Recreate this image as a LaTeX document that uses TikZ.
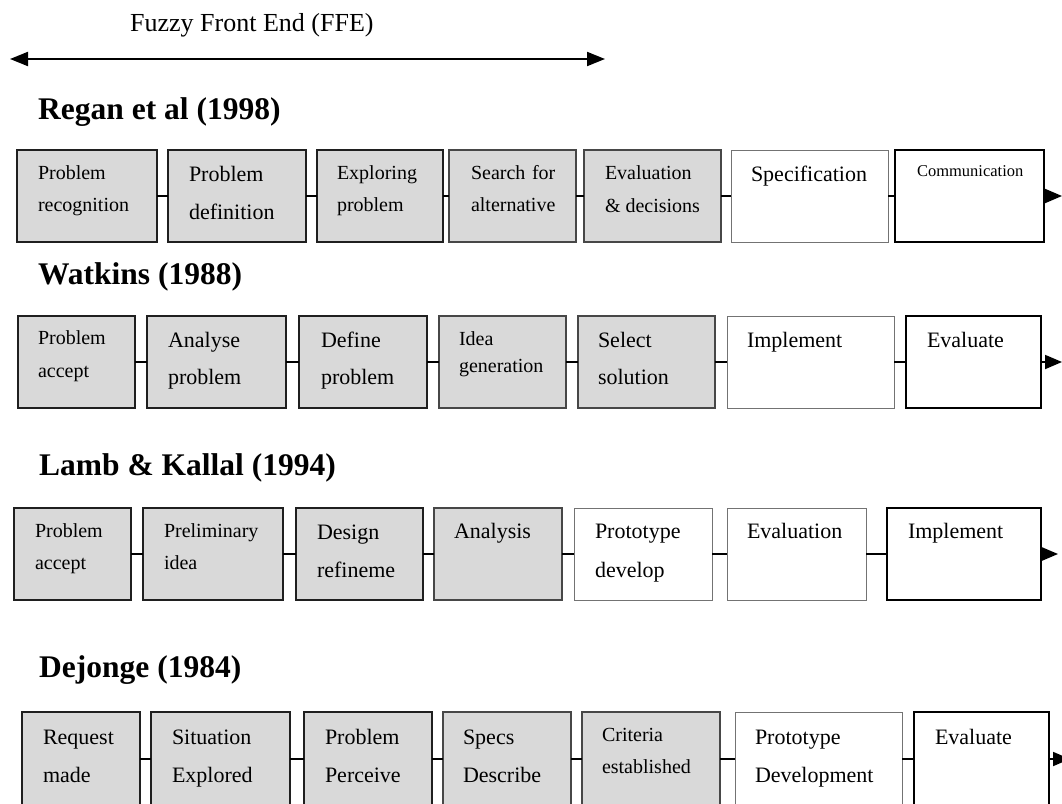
\documentclass[tikz,border=0pt]{standalone}
\usepackage{fontspec}
\setmainfont{Liberation Serif}
\usetikzlibrary{arrows.meta}
\definecolor{boxgray}{HTML}{D9D9D9}
\tikzset{
  stage/.style={rectangle, anchor=north west, inner sep=0pt, outer sep=0pt,
    fill=boxgray, draw=black!88, line width=1.7pt},
  stagethin/.style={stage, draw=black!72, line width=1.2pt},
  stageopen/.style={stage, fill=white, draw=black!55, line width=1pt},
  stageend/.style={stage, fill=white, draw=black, line width=2.2pt},
  link/.style={line width=1.8pt},
  flow/.style={line width=1.8pt, -{Triangle[length=17pt,width=14pt]}},
  lab/.style={anchor=base west, inner sep=0pt, outer sep=0pt, align=left},
  % two-line labels: the base anchor sits on the last line, so drop by one line
  sm/.style={lab, font=\fontsize{20}{#1}\selectfont, yshift=-#1},
  sm/.default=33pt,
  lg/.style={lab, font=\fontsize{22}{#1}\selectfont, yshift=-#1},
  lg/.default=38pt,
  lgone/.style={lab, font=\fontsize{22}{26}\selectfont},
  xs/.style={lab, font=\fontsize{16.5}{20}\selectfont},
  heading/.style={anchor=base west, inner sep=0pt, font=\fontsize{31.5}{36}\selectfont\bfseries},
}
% a stage box: name, style, x1, y1, x2, y2
\newcommand\stagebox[6]{%
  \node[#2, minimum width={(#5-#3)*1pt}, minimum height={(#6-#4)*1pt}] (#1) at (#3,#4) {};}
\begin{document}
\begin{tikzpicture}[x=1pt, y=-1pt]
\clip (0,0) rectangle (1062,803);
\useasboundingbox (0,0) rectangle (1062,803);
\fill[white] (0,0) rectangle (1062,803);

% fuzzy front end span
\node[anchor=base west, inner sep=0pt, font=\fontsize{26}{30}\selectfont] (ffe) at (130,31) {Fuzzy Front End (FFE)};
\coordinate (ffeL) at (10,59);
\coordinate (ffeR) at (605,59);
\draw[line width=2pt, {Triangle[length=18pt,width=14pt]}-{Triangle[length=18pt,width=14pt]}] (ffeL) -- (ffeR);

% ---------------- Regan et al ----------------
\node[heading] (h1) at (38,119) {Regan et al (1998)};
\stagebox{r1a}{stage}{17}{150}{157}{242}
\stagebox{r1b}{stage}{168}{150}{306}{242}
\stagebox{r1c}{stage}{317}{150}{443}{242}
\stagebox{r1d}{stagethin}{449}{150}{576}{242}
\stagebox{r1e}{stagethin}{584}{150}{721}{242}
\stagebox{r1f}{stageopen}{731}{150}{888}{242}
\stagebox{r1g}{stageend}{895}{150}{1044}{242}
\node[sm=32pt] (t1a) at (38,179) {Problem\\recognition};
\node[lg=38pt] (t1b) at (189,181) {Problem\\definition};
\node[sm=32pt] (t1c) at (337,179) {Exploring\\problem};
\node[sm=32pt] (t1d) at (471,179) {\makebox[84.4pt][s]{Search for}\\alternative};
\node[sm=33pt] (t1e) at (605,179) {Evaluation\\\& decisions};
\node[lgone] (t1f) at (751,181) {Specification};
\node[xs] (t1g) at (917,176) {Communication};
\draw[link] (r1a.east) -- (r1b.west);
\draw[link] (r1b.east) -- (r1c.west);
\draw[link] (r1c.east) -- (r1d.west);
\draw[link] (r1d.east) -- (r1e.west);
\draw[link] (r1e.east) -- (r1f.west);
\draw[link] (r1f.east) -- (r1g.west);
\coordinate (e1) at (1062,196);
\draw[flow] (r1g.east) -- (e1);

% ---------------- Watkins ----------------
\node[heading] (h2) at (38,284) {Watkins (1988)};
\stagebox{r2a}{stage}{18}{316}{135}{408}
\stagebox{r2b}{stage}{147}{316}{286}{408}
\stagebox{r2c}{stage}{299}{316}{427}{408}
\stagebox{r2d}{stagethin}{439}{316}{566}{408}
\stagebox{r2e}{stagethin}{578}{316}{715}{408}
\stagebox{r2f}{stageopen}{727}{316}{894}{408}
\stagebox{r2g}{stageend}{906}{316}{1041}{408}
\node[sm] (t2a) at (38,344) {Problem\\accept};
\node[lg=37pt] (t2b) at (168,347) {Analyse\\problem};
\node[lg=37pt] (t2c) at (321,347) {Define\\problem};
\node[sm=27pt] (t2d) at (459,345) {Idea\\generation};
\node[lg=37pt] (t2e) at (598,347) {Select\\solution};
\node[lgone] (t2f) at (747,347) {Implement};
\node[lgone] (t2g) at (927,347) {Evaluate};
\draw[link] (r2a.east) -- (r2b.west);
\draw[link] (r2b.east) -- (r2c.west);
\draw[link] (r2c.east) -- (r2d.west);
\draw[link] (r2d.east) -- (r2e.west);
\draw[link] (r2e.east) -- (r2f.west);
\draw[link] (r2f.east) -- (r2g.west);
\coordinate (e2) at (1062,362);
\draw[flow] (r2g.east) -- (e2);

% ---------------- Lamb & Kallal ----------------
\node[heading] (h3) at (39,475) {Lamb \& Kallal (1994)};
\stagebox{r3a}{stage}{14}{508}{131}{600}
\stagebox{r3b}{stage}{143}{508}{283}{600}
\stagebox{r3c}{stage}{296}{508}{423}{600}
\stagebox{r3d}{stagethin}{434}{508}{562}{600}
\stagebox{r3e}{stageopen}{574}{508}{712}{600}
\stagebox{r3f}{stageopen}{727}{508}{866}{600}
\stagebox{r3g}{stageend}{887}{508}{1041}{600}
\node[sm=32pt] (t3a) at (35,537) {Problem\\accept};
\node[sm=32pt] (t3b) at (164,537) {Preliminary\\idea};
\node[lg=38pt] (t3c) at (317,539) {Design\\refineme};
\node[lgone] (t3d) at (454,538) {Analysis};
\node[lg=39pt] (t3e) at (595,538) {Prototype\\develop};
\node[lgone] (t3f) at (747,538) {Evaluation};
\node[lgone] (t3g) at (908,538) {Implement};
\draw[link] (r3a.east) -- (r3b.west);
\draw[link] (r3b.east) -- (r3c.west);
\draw[link] (r3c.east) -- (r3d.west);
\draw[link] (r3d.east) -- (r3e.west);
\draw[link] (r3e.east) -- (r3f.west);
\draw[link] (r3f.east) -- (r3g.west);
\coordinate (e3) at (1058,554);
\draw[flow] (r3g.east) -- (e3);

% ---------------- Dejonge ----------------
\node[heading] (h4) at (39,677) {Dejonge (1984)};
\stagebox{r4a}{stage}{22}{712}{140}{806}
\stagebox{r4b}{stage}{151}{712}{290}{806}
\stagebox{r4c}{stage}{304}{712}{432}{806}
\stagebox{r4d}{stagethin}{443}{712}{571}{806}
\stagebox{r4e}{stagethin}{582}{712}{720}{806}
\stagebox{r4f}{stageopen}{735}{712}{902}{806}
\stagebox{r4g}{stageend}{914}{712}{1049}{806}
\node[lg] (t4a) at (43,744) {Request\\made};
\node[lg] (t4b) at (172,744) {Situation\\Explored};
\node[lg] (t4c) at (325,744) {Problem\\Perceive};
\node[lg] (t4d) at (463,744) {Specs\\Describe};
\node[sm=32pt] (t4e) at (602,741) {Criteria\\established};
\node[lg] (t4f) at (755,744) {Prototype\\Development};
\node[lgone] (t4g) at (935,744) {Evaluate};
\draw[link] (r4a.east) -- (r4b.west);
\draw[link] (r4b.east) -- (r4c.west);
\draw[link] (r4c.east) -- (r4d.west);
\draw[link] (r4d.east) -- (r4e.west);
\draw[link] (r4e.east) -- (r4f.west);
\draw[link] (r4f.east) -- (r4g.west);
\coordinate (e4) at (1070,759);
\draw[flow] (r4g.east) -- (e4);
\end{tikzpicture}
\end{document}
